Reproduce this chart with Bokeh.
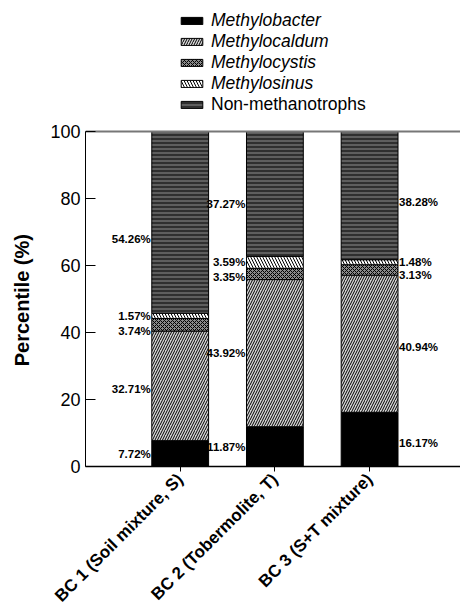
import math
from bokeh.plotting import figure
from bokeh.models import (ColumnDataSource, Legend, LegendItem, Range1d,
                          FixedTicker)
from bokeh.core.properties import value
from bokeh.embed import file_html
from bokeh.resources import INLINE

# ---------------- data ----------------
samples = ["BC 1 (Soil mixture, S)", "BC 2 (Tobermolite, T)", "BC 3 (S+T mixture)"]
groups = ["Methylobacter", "Methylocaldum", "Methylocystis", "Methylosinus", "Non-methanotrophs"]
methylobacter = [7.72, 11.87, 16.17]
methylocaldum = [32.71, 43.92, 40.94]
methylocystis = [3.74, 3.35, 3.13]
methylosinus = [1.57, 3.59, 1.48]
non_methanotrophs = [54.26, 37.27, 38.28]
y_ticks = [0, 20, 40, 60, 80, 100]
y_title = "Percentile (%)"

# ---------------- styles ----------------
FONT = "Liberation Sans"
fills = ["#000000", "#d4d4d4", "#8a8a8a", "#ffffff", "#5e5e5e"]
hatches = [None, "/", "x", "\\", "-"]
hatch_scales = [5, 5, 4, 6, 4]
# small vertical nudges for value labels (per sample, per group)
label_nudge = [[0, -1, -2, 0, -5],
               [0, 0, -1, 0, -3],
               [-1, -1, -1.4, 0, -2]]

x_pos = [1, 2, 3]
bar_w = 0.6
X_END = 3.96
Y_END = 139.1          # frame reaches the top of the page; axis stops at 100
series = [methylobacter, methylocaldum, methylocystis, methylosinus, non_methanotrophs]

p = figure(width=460, height=616, output_backend="svg", toolbar_location=None,
           x_range=Range1d(0, X_END), y_range=Range1d(0, Y_END),
           min_border_left=85, min_border_right=0, min_border_top=0,
           min_border_bottom=150)
p.outline_line_color = None
p.xgrid.visible = False
p.ygrid.visible = False
p.background_fill_color = "white"
p.border_fill_color = "white"

renderers = []
bottom = [0.0, 0.0, 0.0]
for i, s in enumerate(series):
    top = [b + v for b, v in zip(bottom, s)]
    kw = dict(fill_color=fills[i], line_color="black", line_width=1)
    if hatches[i] is not None:
        kw.update(hatch_pattern=hatches[i], hatch_color="black",
                  hatch_scale=hatch_scales[i], hatch_weight=1)
    src = ColumnDataSource(dict(x=x_pos, bottom=bottom, top=top))
    r = p.vbar(x="x", width=bar_w, bottom="bottom", top="top", source=src, **kw)
    renderers.append(r)
    # value labels
    ys = [(b + t) / 2 + label_nudge[j][i] for j, (b, t) in enumerate(zip(bottom, top))]
    txt = ["%.2f%%" % v for v in s]
    # BC1 and BC2: left of bar; BC3: right of bar
    p.text(x=[x_pos[0] - bar_w / 2, x_pos[1] - bar_w / 2], y=ys[:2], text=txt[:2],
           text_align="right", text_baseline="middle", x_offset=-1,
           text_font=value(FONT), text_font_size="11.5px", text_font_style="bold",
           text_color="black")
    p.text(x=[x_pos[2] + bar_w / 2], y=ys[2:], text=txt[2:],
           text_align="left", text_baseline="middle", x_offset=1,
           text_font=value(FONT), text_font_size="11.5px", text_font_style="bold",
           text_color="black")
    bottom = top

# top border line at 100
p.segment(x0=[0], y0=[100], x1=[X_END], y1=[100], line_color="#777777", line_width=2)

# axes
p.xaxis.ticker = FixedTicker(ticks=x_pos)
p.xaxis.major_label_overrides = {x: s for x, s in zip(x_pos, samples)}
p.xaxis.major_label_orientation = math.pi / 4
p.xaxis.major_label_text_font = FONT
p.xaxis.major_label_text_font_size = "17px"
p.xaxis.major_label_text_font_style = "bold"
p.xaxis.major_label_text_color = "black"
p.xaxis.major_tick_in = 0
p.xaxis.major_tick_out = 5
p.xaxis.minor_tick_line_color = None
p.xaxis.axis_line_color = "black"
p.xaxis.axis_line_width = 1.5
p.xaxis.major_tick_line_color = "black"

p.yaxis.ticker = FixedTicker(ticks=y_ticks)
p.yaxis.bounds = (0, 100)
p.yaxis.major_tick_in = 10
p.yaxis.major_tick_out = 0
p.yaxis.minor_tick_line_color = None
p.yaxis.axis_line_color = "black"
p.yaxis.major_tick_line_color = "black"
p.yaxis.major_label_text_font = FONT
p.yaxis.major_label_text_font_size = "18px"
p.yaxis.major_label_text_color = "black"
p.yaxis.major_label_standoff = 5
# the axis title is centred on the whole frame; pad its far end with
# non-breaking spaces so the visible words sit centred on the 0-100 span
p.yaxis.axis_label = y_title + "\u00a0" * 24
p.yaxis.axis_label_text_font = FONT
p.yaxis.axis_label_text_font_size = "20px"
p.yaxis.axis_label_text_font_style = "bold"
p.yaxis.axis_label_text_color = "black"
p.yaxis.axis_label_standoff = 14

common = dict(glyph_width=27, glyph_height=9, label_height=21, spacing=0,
              padding=0, margin=0, label_standoff=6,
              label_text_font=FONT, label_text_font_size="17.5px",
              label_text_color="black", label_text_baseline="middle",
              background_fill_alpha=0, border_line_color=None)
leg1 = Legend(items=[LegendItem(label=groups[i], renderers=[renderers[i]]) for i in range(4)],
              location=(93, 372), label_text_font_style="italic", **common)
leg2 = Legend(items=[LegendItem(label=groups[4], renderers=[renderers[4]])],
              location=(93, 351), label_text_font_style="normal", **common)
p.add_layout(leg1)
p.add_layout(leg2)

open("out.html", "w").write(file_html(p, INLINE))
